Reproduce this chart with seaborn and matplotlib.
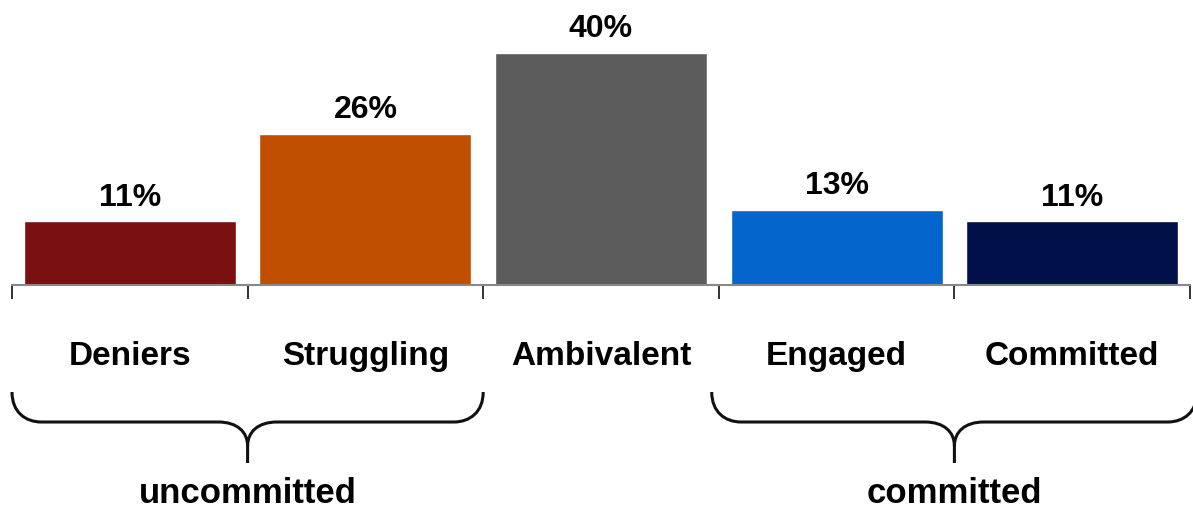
import matplotlib
matplotlib.use("Agg")
import matplotlib.pyplot as plt
import seaborn as sns
import pandas as pd
from matplotlib.path import Path
from matplotlib.patches import PathPatch
from matplotlib.transforms import blended_transform_factory

categories = ["Deniers", "Struggling", "Ambivalent", "Engaged", "Committed"]
values = [11, 26, 40, 13, 11]
colors = ["#7a1010", "#c05000", "#5c5c5c", "#0466cc", "#02104a"]
group_labels = ["uncommitted", "committed"]
group_spans = [(-0.5, 1.5), (2.47, 4.53)]

sns.set_theme(style="white")
plt.rcParams['font.family'] = ['Liberation Sans', 'DejaVu Sans']
plt.rcParams['text.color'] = 'black'
plt.rcParams['xtick.color'] = 'black'

W, H = 1193, 511
fig = plt.figure(figsize=(W / 100, H / 100), dpi=100)
ax = fig.add_axes([12 / W, 226 / H, (1190 - 12) / W, 1 - 226 / H])

df = pd.DataFrame({"cat": categories, "val": values})
sns.barplot(data=df, x="cat", y="val", hue="cat", palette=colors, legend=False,
            width=0.9, saturation=1, ax=ax)

ax.set_xlim(-0.5, 4.5)
ax.set_ylim(0, 285 / 5.8)
for s in ["top", "right", "left"]:
    ax.spines[s].set_visible(False)
ax.spines["bottom"].set_color("#888888")
ax.spines["bottom"].set_linewidth(1.5)
ax.set_yticks([])
ax.set_xlabel("")
ax.set_ylabel("")
ax.set_xticks(range(len(categories)))
ax.set_xticklabels(categories, fontsize=24, fontweight="bold", color="black")
ax.tick_params(axis="x", which="major", length=0, pad=40)
ax.set_xticks([i - 0.5 for i in range(len(categories) + 1)], minor=True)
ax.tick_params(axis="x", which="minor", bottom=True, length=10, width=1.3, color="#222222")

for i, v in enumerate(values):
    ax.text(i, v + 1.5, f"{v}%", ha="center", va="bottom", fontsize=23,
            fontweight="bold", color="black")

trans = blended_transform_factory(ax.transData, fig.transFigure)
def fy(p):
    return 1 - p / H
rx = 0.125  # horizontal curve extent in data units (~30px)
for (x0, x1), lab in zip(group_spans, group_labels):
    xc = (x0 + x1) / 2
    ytop, ymid, ytip, ybot = fy(392), fy(422), fy(446), fy(463)
    verts = [
        (x0, ytop),
        (x0, fy(412)), (x0 + rx * 0.45, ymid), (x0 + rx, ymid),
        (xc - rx, ymid),
        (xc - rx * 0.35, ymid), (xc, fy(432)), (xc, ytip),
        (xc, ybot),
        (xc, ytip),
        (xc, fy(432)), (xc + rx * 0.35, ymid), (xc + rx, ymid),
        (x1 - rx, ymid),
        (x1 - rx * 0.45, ymid), (x1, fy(412)), (x1, ytop),
    ]
    codes = [Path.MOVETO,
             Path.CURVE4, Path.CURVE4, Path.CURVE4,
             Path.LINETO,
             Path.CURVE4, Path.CURVE4, Path.CURVE4,
             Path.LINETO,
             Path.MOVETO,
             Path.CURVE4, Path.CURVE4, Path.CURVE4,
             Path.LINETO,
             Path.CURVE4, Path.CURVE4, Path.CURVE4]
    patch = PathPatch(Path(verts, codes), transform=trans, facecolor="none",
                      edgecolor="#111111", linewidth=2.2, clip_on=False)
    fig.add_artist(patch)
    ax.text(xc, fy(493), lab, transform=trans, ha="center", va="center",
            fontsize=25, fontweight="bold", color="black", clip_on=False)

fig.savefig("out.png", dpi=100)
